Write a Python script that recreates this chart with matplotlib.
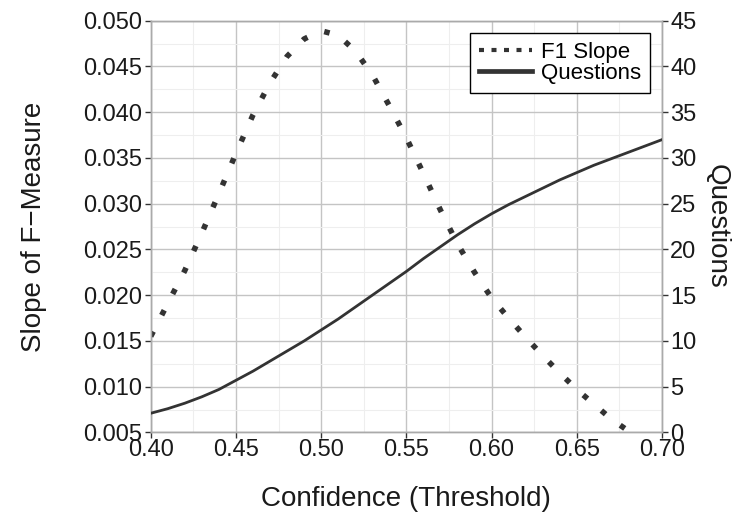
import numpy as np
import matplotlib
matplotlib.use("Agg")
import matplotlib.pyplot as plt
from matplotlib.ticker import MultipleLocator
from matplotlib.lines import Line2D

plt.rcParams['font.family'] = ['Liberation Sans', 'DejaVu Sans']

# confidence threshold grid
conf = [0.40, 0.41, 0.42, 0.43, 0.44, 0.45, 0.46, 0.47, 0.48, 0.49, 0.50,
        0.51, 0.52, 0.53, 0.54, 0.55, 0.56, 0.57, 0.58, 0.59, 0.60,
        0.61, 0.62, 0.63, 0.64, 0.65, 0.66, 0.67, 0.68, 0.69, 0.70]

f1_slope = [0.0155, 0.0191, 0.0227, 0.0268, 0.0311, 0.0355, 0.0397, 0.0432,
            0.0461, 0.0480, 0.0489, 0.0484, 0.0467, 0.0441, 0.0407, 0.0372,
            0.0333, 0.0293, 0.0256, 0.0225, 0.0197, 0.0175, 0.0154, 0.0134,
            0.0115, 0.0097, 0.0081, 0.0065, 0.0052, 0.0040, 0.0028]

questions = [2.1, 2.6, 3.2, 3.9, 4.7, 5.7, 6.7, 7.8, 8.9, 10.0, 11.2,
             12.4, 13.7, 15.0, 16.3, 17.6, 19.0, 20.3, 21.6, 22.8, 23.9,
             24.9, 25.8, 26.7, 27.6, 28.4, 29.2, 29.9, 30.6, 31.3, 32.0]

ink = '#333333'
txt = '#1a1a1a'

fig = plt.figure(figsize=(7.32, 5.21), dpi=100)
ax = fig.add_axes([0.2059, 0.1699, 0.6985, 0.7904])
ax2 = ax.twinx()

ax.plot(conf, f1_slope, color=ink, lw=4, linestyle=(0, (1.0, 3.3)),
        dash_capstyle='butt', zorder=3)
ax2.plot(conf, questions, color=ink, lw=2.0, zorder=3)

ax.set_xlim(0.40, 0.70)
ax.set_ylim(0.005, 0.050)
ax2.set_ylim(0, 45)

ax.xaxis.set_major_locator(MultipleLocator(0.05))
ax.xaxis.set_minor_locator(MultipleLocator(0.025))
ax.yaxis.set_major_locator(MultipleLocator(0.005))
ax.yaxis.set_minor_locator(MultipleLocator(0.0025))
ax2.yaxis.set_major_locator(MultipleLocator(5))

ax.set_xticklabels([f"{v:.2f}" for v in ax.get_xticks()])
ax.set_yticklabels([f"{v:.3f}" for v in ax.get_yticks()])

ax.grid(which='major', color='#c4c4c4', lw=1.0)
ax.grid(which='minor', color='#eeeeee', lw=0.8)
ax.set_axisbelow(True)

for a in (ax, ax2):
    for s in a.spines.values():
        s.set_color('#aaaaaa')
        s.set_linewidth(1.0)
    a.tick_params(which='major', length=4, width=1, color=ink,
                  labelsize=17, labelcolor=txt, pad=2)
    a.tick_params(which='minor', length=0)
ax.tick_params(axis='x', pad=1)

ax.set_xlabel('Confidence (Threshold)', fontsize=20, color=txt, labelpad=18)
ax.set_ylabel('Slope of F\u2212Measure', fontsize=20, color=txt, labelpad=26)
ax2.set_ylabel('Questions', fontsize=20, color=txt, rotation=-90, labelpad=24)

handles = [Line2D([], [], color=ink, lw=3, linestyle=(0, (1.2, 1.8)), dash_capstyle='butt'),
           Line2D([], [], color=ink, lw=3.4)]
leg = ax2.legend(handles, ['F1 Slope', 'Questions'], loc='upper right',
                 fontsize=16, frameon=True, fancybox=False, framealpha=1,
                 edgecolor='black', handlelength=2.4, handletextpad=0.4,
                 labelspacing=0.0, borderpad=0.4, borderaxespad=0.55)
leg.get_frame().set_linewidth(1.0)

fig.savefig('out.png', dpi=100)
